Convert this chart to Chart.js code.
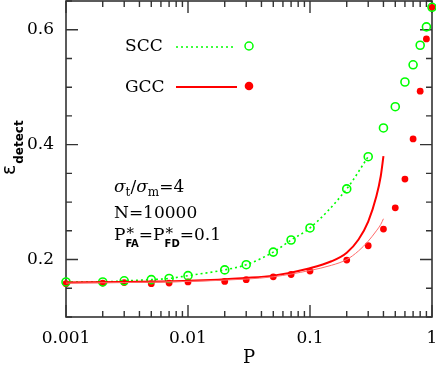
<!DOCTYPE html>
<html>
<head>
<meta charset="utf-8">
<script src="https://cdn.jsdelivr.net/npm/chart.js@4/dist/chart.umd.min.js"></script>
<style>
  html, body { margin: 0; padding: 0; background: #fff; }
</style>
</head>
<body>
<canvas id="chart" width="436" height="365"></canvas>
<script>
// ---- data ----
const pValues = [0.001, 0.002, 0.003, 0.005, 0.007, 0.01, 0.02, 0.03, 0.05, 0.07,
                 0.1, 0.2, 0.3, 0.4, 0.5, 0.6, 0.7, 0.8, 0.9, 1.0];
const sccPoints = [0.161, 0.161, 0.163, 0.165, 0.167, 0.172, 0.182, 0.191, 0.213, 0.234,
                   0.255, 0.323, 0.379, 0.429, 0.466, 0.509, 0.539, 0.573, 0.605, 0.639];
const gccPoints = [0.158, 0.159, 0.160, 0.158, 0.159, 0.161, 0.162, 0.165, 0.170, 0.174,
                   0.180, 0.199, 0.224, 0.253, 0.290, 0.340, 0.410, 0.493, 0.584, 0.639];

// dotted SCC curve runs through the points up to P = 0.3
const sccCurveP = [0.001, 0.002, 0.003, 0.005, 0.007, 0.01, 0.02, 0.03, 0.05, 0.07, 0.1, 0.2, 0.3];
const sccCurve = [0.161, 0.161, 0.163, 0.165, 0.167, 0.172, 0.182, 0.191, 0.213, 0.234, 0.255, 0.323, 0.379];

// GCC model curves (thick and thin)
const gccCurveP = [0.001, 0.003, 0.01, 0.03, 0.05, 0.1, 0.15, 0.2, 0.25, 0.3, 0.35, 0.38, 0.4];
const gccCurve = [0.160, 0.161, 0.163, 0.168, 0.172, 0.185, 0.197, 0.212, 0.235, 0.266, 0.310, 0.345, 0.380];
const gccCurveThin = [0.159, 0.160, 0.162, 0.166, 0.170, 0.181, 0.190, 0.200, 0.215, 0.232, 0.250, 0.261, 0.271];

const xMajorTicks = [0.001, 0.01, 0.1, 1];
const yMajorTicks = [0.2, 0.4, 0.6];
const yMinorTicks = [0.1, 0.15, 0.25, 0.3, 0.35, 0.45, 0.5, 0.55, 0.65];

const GREEN = '#00ff00';
const RED = '#ff0000';
const SERIF = '"DejaVu Serif", serif';
const SANS = '"DejaVu Sans", sans-serif';

const toXY = (xs, ys) => xs.map((x, i) => ({ x: x, y: ys[i] }));

// no extra room for overflowing tick labels; the frame is placed by hand
const noPad = (scale) => {
  scale.paddingLeft = 0;
  scale.paddingRight = 0;
  scale.paddingTop = 0;
  scale.paddingBottom = 0;
};

// frame with inward ticks on all four sides
const framePlugin = {
  id: 'frame',
  beforeDatasetsDraw(chart) {
    const { ctx, chartArea: a, scales } = chart;
    const xs = scales.x, ys = scales.y;
    ctx.save();
    ctx.strokeStyle = '#333';
    ctx.lineWidth = 1.6;
    ctx.strokeRect(a.left, a.top, a.right - a.left, a.bottom - a.top);

    ctx.lineWidth = 1.4;
    const tickX = (v, len) => {
      const px = xs.getPixelForValue(v);
      ctx.beginPath();
      ctx.moveTo(px, a.bottom); ctx.lineTo(px, a.bottom - len);
      ctx.moveTo(px, a.top); ctx.lineTo(px, a.top + len);
      ctx.stroke();
    };
    const tickY = (v, len) => {
      const py = ys.getPixelForValue(v);
      ctx.beginPath();
      ctx.moveTo(a.left, py); ctx.lineTo(a.left + len, py);
      ctx.moveTo(a.right, py); ctx.lineTo(a.right - len, py);
      ctx.stroke();
    };
    xMajorTicks.forEach(v => tickX(v, 12));
    for (let d = 0.001; d < 1; d *= 10) {
      for (let m = 2; m <= 9; m++) tickX(d * m, 6);
    }
    yMajorTicks.forEach(v => tickY(v, 12));
    yMinorTicks.forEach(v => tickY(v, 6));
    ctx.restore();
  },
  afterDraw(chart) {
    const { ctx } = chart;
    ctx.save();
    ctx.fillStyle = '#000';
    ctx.textBaseline = 'alphabetic';

    // axis titles
    ctx.font = '18px ' + SERIF;
    ctx.textAlign = 'center';
    ctx.fillText('P', 249, 363);

    ctx.textAlign = 'left';
    ctx.save();
    ctx.translate(15, 175);
    ctx.rotate(-Math.PI / 2);
    ctx.font = '19px ' + SANS;
    ctx.fillText('\u03b5', 0, 0);
    const ew = ctx.measureText('\u03b5').width;
    ctx.font = 'bold 12px ' + SANS;
    ctx.fillText('detect', ew + 1, 8);
    ctx.restore();

    // legend
    ctx.font = '17px ' + SERIF;
    ctx.textBaseline = 'middle';
    ctx.fillText('SCC', 125, 47);
    ctx.fillText('GCC', 125, 88);
    ctx.textBaseline = 'alphabetic';

    ctx.strokeStyle = GREEN;
    ctx.lineWidth = 1.5;
    ctx.setLineDash([2, 3]);
    ctx.beginPath(); ctx.moveTo(176, 47); ctx.lineTo(236, 47); ctx.stroke();
    ctx.setLineDash([]);
    ctx.beginPath(); ctx.arc(249, 46, 4, 0, Math.PI * 2); ctx.stroke();

    ctx.strokeStyle = RED;
    ctx.lineWidth = 2;
    ctx.beginPath(); ctx.moveTo(176, 87); ctx.lineTo(237, 87); ctx.stroke();
    ctx.fillStyle = RED;
    ctx.beginPath(); ctx.arc(249, 86, 4.3, 0, Math.PI * 2); ctx.fill();

    // annotation block
    ctx.fillStyle = '#000';
    const big = '17px ' + SERIF, small = '12px ' + SERIF, smallB = 'bold 10px ' + SANS;
    let x = 114;
    const put = (t, font, dy) => {
      ctx.font = font;
      ctx.fillText(t, x, dy);
      x += ctx.measureText(t).width;
    };
    put('\u03c3', 'italic ' + big, 192);
    put('t', small, 196);
    put('/', big, 192);
    put('\u03c3', 'italic ' + big, 192);
    put('m', small, 196);
    put('=4', big, 192);

    x = 114;
    put('N=10000', big, 218);

    x = 114;
    const stacked = (sub) => {
      ctx.font = '15px ' + SERIF;
      ctx.fillText('*', x + 1, 238);
      const sw = ctx.measureText('*').width;
      ctx.font = smallB;
      ctx.fillText(sub, x, 247);
      x += Math.max(sw, ctx.measureText(sub).width);
    };
    put('P', big, 240);
    stacked('FA');
    put('=P', big, 240);
    stacked('FD');
    put('=0.1', big, 240);

    ctx.restore();
  }
};

new Chart(document.getElementById('chart'), {
  type: 'scatter',
  data: {
    datasets: [
      {
        label: 'GCC thin',
        data: toXY(gccCurveP, gccCurveThin),
        showLine: true,
        borderColor: '#ff6a6a',
        borderWidth: 1,
        pointRadius: 0,
        cubicInterpolationMode: 'monotone',
        clip: false
      },
      {
        label: 'GCC curve',
        data: toXY(gccCurveP, gccCurve),
        showLine: true,
        borderColor: RED,
        borderWidth: 2,
        pointRadius: 0,
        cubicInterpolationMode: 'monotone',
        clip: false
      },
      {
        label: 'SCC curve',
        data: toXY(sccCurveP, sccCurve),
        showLine: true,
        borderColor: GREEN,
        borderWidth: 1.6,
        borderDash: [2, 3],
        pointRadius: 0,
        cubicInterpolationMode: 'monotone',
        clip: false
      },
      {
        label: 'SCC',
        data: toXY(pValues, sccPoints),
        pointRadius: 4,
        pointBorderWidth: 1.6,
        pointBorderColor: GREEN,
        pointBackgroundColor: 'rgba(0,0,0,0)',
        clip: false
      },
      {
        label: 'GCC',
        data: toXY(pValues, gccPoints),
        pointRadius: 3.4,
        pointBorderWidth: 0,
        pointBackgroundColor: RED,
        pointBorderColor: RED,
        clip: false
      }
    ]
  },
  options: {
    responsive: false,
    animation: false,
    devicePixelRatio: 1,
    layout: { autoPadding: false, padding: { left: 0, right: 4, top: 1, bottom: 0 } },
    plugins: {
      legend: { display: false },
      tooltip: { enabled: false }
    },
    scales: {
      x: {
        type: 'logarithmic',
        min: 0.001,
        max: 1,
        grid: { display: false, drawTicks: false },
        border: { display: false },
        afterBuildTicks: (scale) => { scale.ticks = xMajorTicks.map(v => ({ value: v, major: true })); },
        afterFit: (scale) => { scale.height = 48; noPad(scale); },
        ticks: {
          autoSkip: false,
          maxRotation: 0,
          padding: 11,
          color: '#000',
          font: { family: SERIF, size: 17 },
          callback: (v) => String(v)
        }
      },
      y: {
        min: 0.1,
        max: 0.65,
        grid: { display: false, drawTicks: false },
        border: { display: false },
        afterBuildTicks: (scale) => { scale.ticks = yMajorTicks.map(v => ({ value: v })); },
        afterFit: (scale) => { scale.width = 66; noPad(scale); },
        ticks: {
          padding: 12,
          color: '#000',
          font: { family: SERIF, size: 17 },
          callback: (v) => v.toFixed(1)
        }
      }
    }
  },
  plugins: [framePlugin]
});
</script>
</body>
</html>
